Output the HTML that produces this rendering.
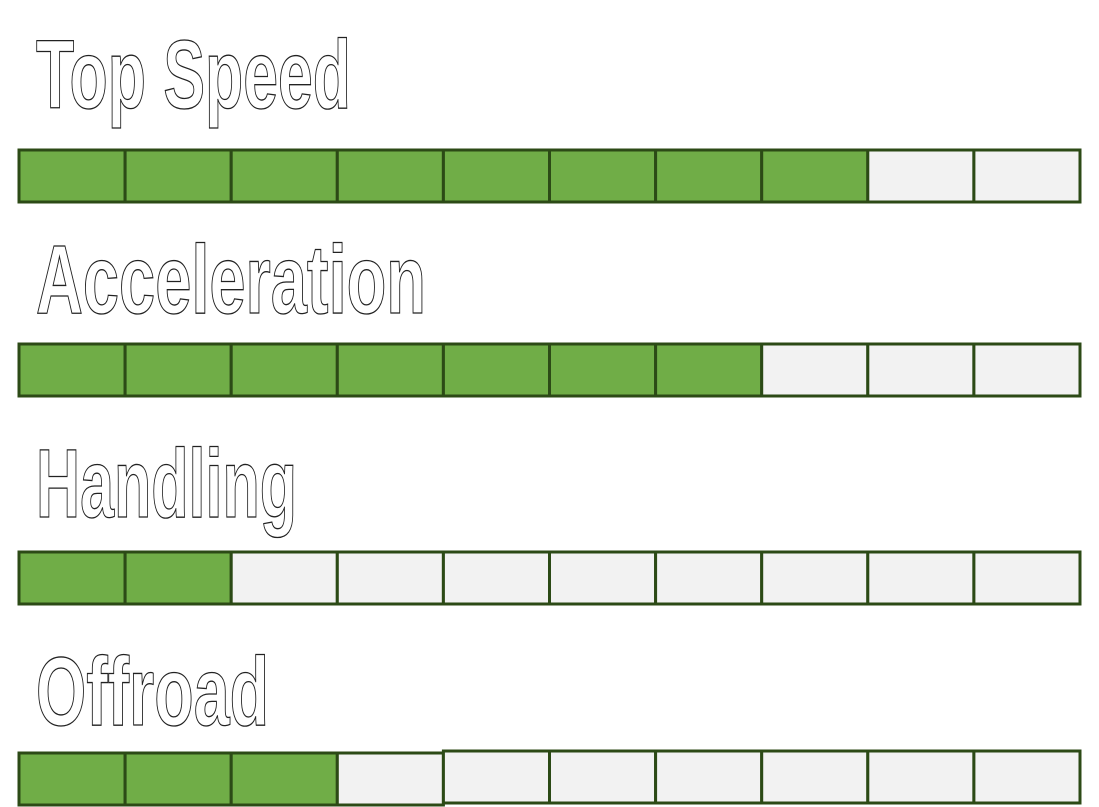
<!DOCTYPE html>
<html><head><meta charset="utf-8"><style>
html,body{margin:0;padding:0;background:#fff;width:1099px;height:807px;overflow:hidden}
svg{display:block}
</style></head><body>
<svg id="chart" width="1099" height="807" xmlns="http://www.w3.org/2000/svg"></svg>
<script>
const categories = ["Top Speed", "Acceleration", "Handling", "Offroad"];
const values = [8, 7, 2, 3];
const maxValue = 10;

const svg = document.getElementById('chart');
const NS = 'http://www.w3.org/2000/svg';
const rowTops = [149, 343, 551, 752];
const baselines = [108, 313, 517, 725];
const titleWidths = [315, 390, 261, 233];
const x0 = 18, x1 = 1079, h = 53;
const cw = (x1 - x0) / maxValue;
function xScale(i){ return x0 + i * cw; }

categories.forEach((cat, r) => {
  const g = document.createElementNS(NS, 'g');
  
  
  const t = document.createElementNS(NS, 'text');
  
  
  t.setAttribute('x', 36);
  t.setAttribute('y', baselines[r]);
  t.setAttribute('font-family', 'Liberation Sans, sans-serif');
  t.setAttribute('font-weight', 'bold');
  t.setAttribute('font-size', '97');
  t.setAttribute('fill', '#fff');
  t.setAttribute('stroke', '#222');
  t.setAttribute('stroke-width', '1.3');
  t.setAttribute('textLength', titleWidths[r]);
  t.setAttribute('lengthAdjust', 'spacingAndGlyphs');
  t.textContent = cat;
  g.appendChild(t);
  for (let i = 0; i < maxValue; i++) {
    const rc = document.createElementNS(NS, 'rect');
    
    
    let y = rowTops[r];
    if (r === 3 && i >= 4) y -= 2;
    rc.setAttribute('x', xScale(i) + 1);
    rc.setAttribute('y', y + 1);
    rc.setAttribute('width', cw);
    rc.setAttribute('height', h - 1);
    rc.setAttribute('fill', i < values[r] ? '#70ad47' : '#f2f2f2');
    rc.setAttribute('stroke', '#2c4a16');
    rc.setAttribute('stroke-width', '3');
    g.appendChild(rc);
  }
  svg.appendChild(g);
});
</script>
</body></html>
